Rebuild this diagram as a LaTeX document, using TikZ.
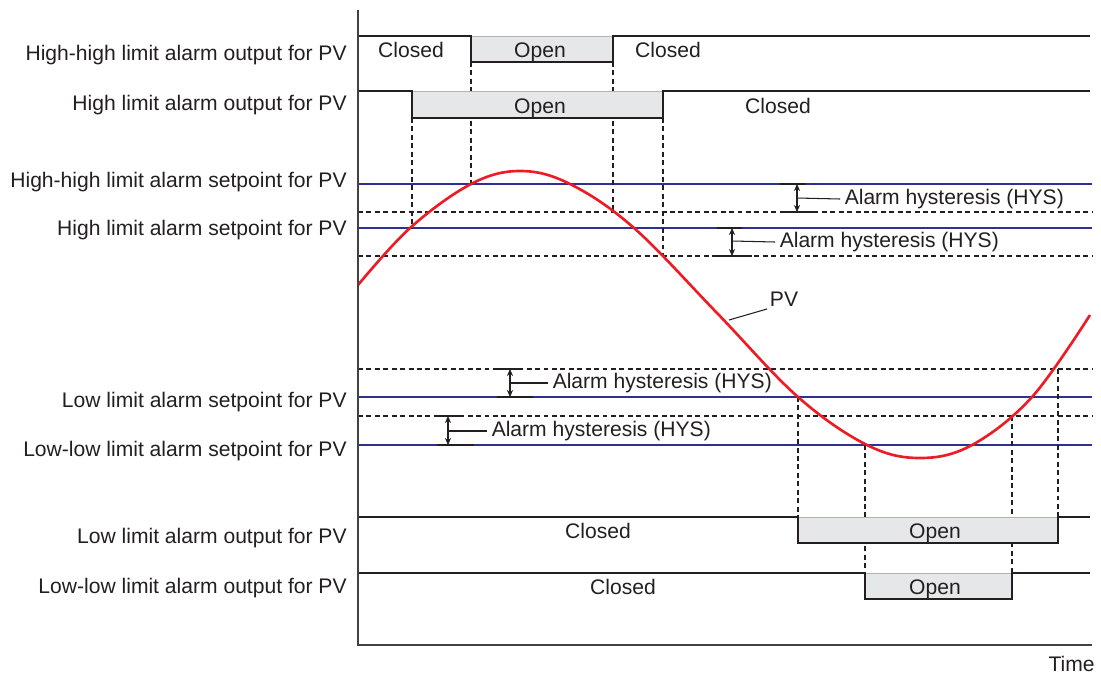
\documentclass[tikz,border=0pt]{standalone}
\usepackage{fontspec}
\setmainfont{Liberation Sans}
\usetikzlibrary{arrows.meta}
\definecolor{spblue}{RGB}{46,49,146}
\definecolor{pvred}{RGB}{237,28,36}
\definecolor{boxgray}{RGB}{230,231,232}
\definecolor{inkgray}{RGB}{35,31,32}
\begin{document}
\begin{tikzpicture}[x=0.02cm,y=-0.02cm,font=\fontsize{12}{14}\selectfont,
  rowlabel/.style={anchor=base east,text=inkgray,inner sep=0pt},
  state/.style={anchor=base,text=inkgray,inner sep=0pt},
  signal/.style={line width=1.5pt,inkgray},
  openbox/.style={fill=boxgray,draw=gray!60,line width=0.4pt},
  setline/.style={line width=1.4pt,spblue},
  hysline/.style={dash pattern=on 2.8pt off 2pt,line width=0.6pt,inkgray},
  guide/.style={dash pattern=on 2.8pt off 2pt,line width=0.6pt,inkgray},
  tick/.style={line width=0.6pt,inkgray},
  hysarrow/.style={{Stealth[length=4pt,width=3.5pt]}-{Stealth[length=4pt,width=3.5pt]},line width=0.6pt,inkgray},
  hystext/.style={anchor=west,text=inkgray,inner xsep=2.5pt,inner ysep=0pt}]
\useasboundingbox (0,0) rectangle (1101,673);

% row labels
\node[rowlabel] (hhout) at (347,60) {High-high limit alarm output for PV};
\node[rowlabel] (hout) at (347,110) {High limit alarm output for PV};
\node[rowlabel] (hhset) at (347,187) {High-high limit alarm setpoint for PV};
\node[rowlabel] (hset) at (347,235) {High limit alarm setpoint for PV};
\node[rowlabel] (lset) at (347,407) {Low limit alarm setpoint for PV};
\node[rowlabel] (llset) at (347,456) {Low-low limit alarm setpoint for PV};
\node[rowlabel] (lout) at (347,543) {Low limit alarm output for PV};
\node[rowlabel] (llout) at (347,593) {Low-low limit alarm output for PV};

% setpoints and hysteresis levels
\draw[setline] (358,184) -- (1092,184);
\draw[setline] (358,228) -- (1092,228);
\draw[setline] (358,397) -- (1092,397);
\draw[setline] (358,445) -- (1092,445);
\draw[hysline] (358,212) -- (1092,212);
\draw[hysline] (358,256) -- (1092,256);
\draw[hysline] (358,369) -- (1092,369);
\draw[hysline] (358,416) -- (1092,416);

% guides
\draw[guide] (412,118) -- (412,228);
\draw[guide] (471,62) -- (471,184);
\draw[guide] (613,62) -- (613,212);
\draw[guide] (663,118) -- (663,256);
\draw[guide] (798,397) -- (798,517);
\draw[guide] (865,445) -- (865,573);
\draw[guide] (1012,416) -- (1012,573);
\draw[guide] (1058,369) -- (1058,517);

% outputs
\path[openbox] (471,36) rectangle (613,62);
\draw[signal] (358,36) -- (471,36) -- (471,62) -- (613,62) -- (613,36) -- (1090,36);
\node[state] (hhc1) at (411,57) {Closed};
\node[state] (hho) at (540,57) {Open};
\node[state] (hhc2) at (668,57) {Closed};

\path[openbox] (412,91) rectangle (663,118);
\draw[signal] (358,91) -- (412,91) -- (412,118) -- (663,118) -- (663,91) -- (1090,91);
\node[state] (ho) at (540,113) {Open};
\node[state] (hc) at (778,113) {Closed};

\path[openbox] (798,517) rectangle (1058,543);
\draw[signal] (358,517) -- (798,517) -- (798,543) -- (1058,543) -- (1058,517) -- (1090,517);
\node[state] (lc) at (598,538) {Closed};
\node[state] (lo) at (935,538) {Open};

\path[openbox] (865,573) rectangle (1012,599);
\draw[signal] (358,573) -- (865,573) -- (865,599) -- (1012,599) -- (1012,573) -- (1090,573);
\node[state] (llc) at (623,594) {Closed};
\node[state] (llo) at (935,594) {Open};

% hysteresis
\draw[tick] (780,184) -- (806,184);
\draw[tick] (780,212) -- (816,212);
\draw[hysarrow] (797,184) -- (797,212);
\node[hystext] (hyshh) at (840,199) {Alarm hysteresis (HYS)};
\draw[tick] (797,198) -- (hyshh.west);

\draw[tick] (717,228) -- (742,228);
\draw[tick] (712,256) -- (752,256);
\draw[hysarrow] (732,228) -- (732,256);
\node[hystext] (hysh) at (775,242) {Alarm hysteresis (HYS)};
\draw[tick] (732,241) -- (hysh.west);

\draw[tick] (498,369) -- (523,369);
\draw[tick] (497,397) -- (533,397);
\draw[hysarrow] (510,369) -- (510,397);
\node[hystext] (hysl) at (548,383) {Alarm hysteresis (HYS)};
\draw[tick] (510,383) -- (hysl.west);

\draw[tick] (437,416) -- (462,416);
\draw[tick] (437,445) -- (474,445);
\draw[hysarrow] (448,416) -- (448,445);
\node[hystext] (hysll) at (487,431) {Alarm hysteresis (HYS)};
\draw[tick] (448,431) -- (hysll.west);

% PV
\draw[line width=1.5pt,pvred] plot[smooth,tension=0.6] coordinates {(358,285) (410,228) (471,184) (520,171) (570,184) (634,228) (717,313) (798,397) (867,445) (920,458) (972,445) (1032,397) (1090,315)};
\node[state,anchor=base west,inner sep=1.5pt] (pv) at (767,306) {PV};
\coordinate (pvfoot) at (729,320);
\draw[tick] (pvfoot) -- (pv.south west);

% axes
\draw[line width=0.85pt,inkgray!85] (358,10) -- (358,645) -- (1092,645);
\node[state,anchor=base east] (time) at (1095,671) {Time};
\end{tikzpicture}
\end{document}
